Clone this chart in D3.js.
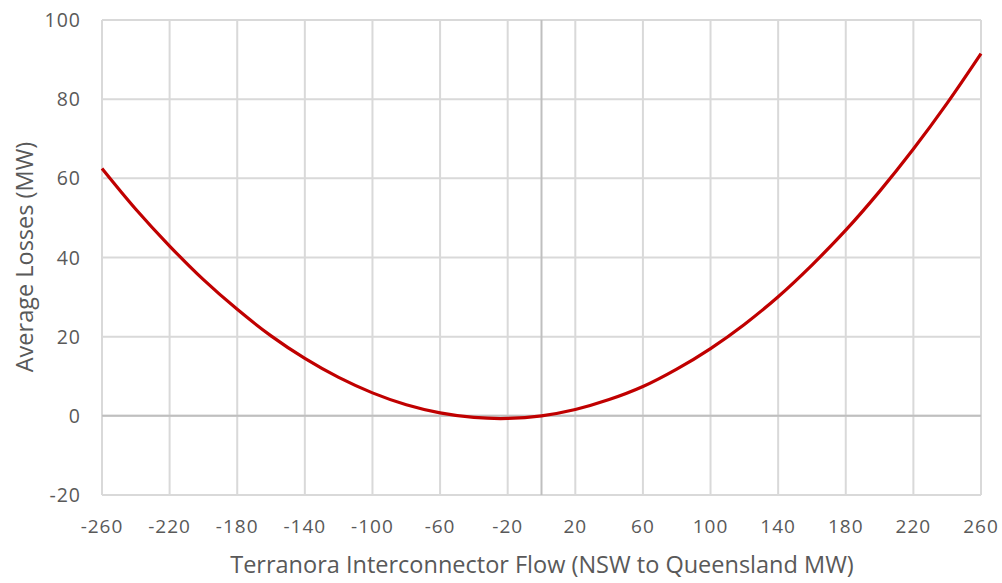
<!DOCTYPE html>
<html><head><meta charset="utf-8">
<script src="https://cdn.jsdelivr.net/npm/d3@7"></script>
<style>body{margin:0;background:#fff}svg{display:block}text{font-family:"Open Sans",sans-serif;fill:#595959}</style>
</head><body><svg id="c" width="1002" height="583"></svg>
<script>
const flowMW = [-260,-240,-220,-200,-180,-160,-140,-120,-100,-80,-60,-40,-20,0,20,40,60,80,100,120,140,160,180,200,220,240,260];
const lossesMW = [62.5,52.2,42.9,34.4,26.9,20.2,14.5,9.7,5.8,2.8,0.75,-0.4,-0.66,0,1.6,4.1,7.4,11.8,17.0,23.1,30.1,38.1,46.9,56.7,67.4,79.0,91.5];
const xTicks = [-260,-220,-180,-140,-100,-60,-20,20,60,100,140,180,220,260];
const yTicks = [-20,0,20,40,60,80,100];
const xTitle = "Terranora Interconnector Flow (NSW to Queensland MW)";
const yTitle = "Average Losses (MW)";

const svg = d3.select("#c");
const L=102,R=981,T=20,B=495;
const x = d3.scaleLinear().domain([-260,260]).range([L,R]);
const y = d3.scaleLinear().domain([-20,100]).range([B,T]);

const g = svg.append("g");
g.selectAll(".vg").data(xTicks).join("line")
 .attr("x1",d=>x(d)).attr("x2",d=>x(d)).attr("y1",T).attr("y2",B)
 .attr("stroke","#d9d9d9").attr("stroke-width",2);
g.selectAll(".hg").data(yTicks).join("line")
 .attr("x1",L).attr("x2",R).attr("y1",d=>y(d)).attr("y2",d=>y(d))
 .attr("stroke","#d9d9d9").attr("stroke-width",2);
g.append("line").attr("x1",x(0)).attr("x2",x(0)).attr("y1",T).attr("y2",B).attr("stroke","#bfbfbf").attr("stroke-width",2);
g.append("line").attr("x1",L).attr("x2",R).attr("y1",y(0)).attr("y2",y(0)).attr("stroke","#bfbfbf").attr("stroke-width",2);

const line = d3.line().x((d,i)=>x(flowMW[i])).y(d=>y(d)).curve(d3.curveCatmullRom);
svg.append("path").datum(lossesMW).attr("d",line).attr("fill","none").attr("stroke","#c00000").attr("stroke-width",3.2);

svg.selectAll(".xt").data(xTicks).join("text")
 .attr("x",d=>x(d)).attr("y",533).attr("text-anchor","middle").attr("font-size",19).attr("letter-spacing",1).text(d=>d);
svg.selectAll(".yt").data(yTicks).join("text")
 .attr("x",81).attr("y",d=>y(d)+7).attr("text-anchor","end").attr("font-size",19.5).attr("letter-spacing",1).text(d=>d);
svg.append("text").attr("x",542).attr("y",573).attr("text-anchor","middle").attr("font-size",23.5).text(xTitle);
svg.append("text").attr("transform","translate(33,257) rotate(-90)").attr("text-anchor","middle").attr("font-size",23.5).text(yTitle);
</script></body></html>
